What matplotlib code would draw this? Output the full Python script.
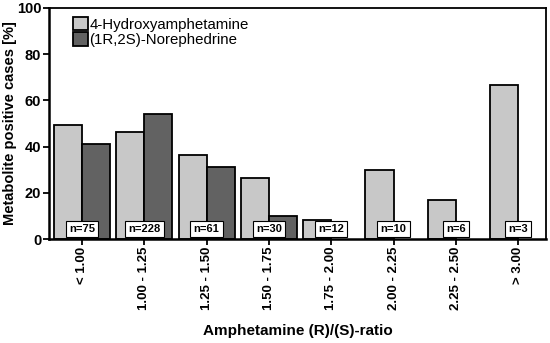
import matplotlib
matplotlib.use("Agg")
import matplotlib.pyplot as plt
import numpy as np

categories = ["< 1.00", "1.00 - 1.25", "1.25 - 1.50", "1.50 - 1.75",
              "1.75 - 2.00", "2.00 - 2.25", "2.25 - 2.50", "> 3.00"]
hydroxy = [49.2, 46.2, 36.2, 26.5, 8.2, 30.0, 16.7, 66.7]
norephedrine = [41.3, 54.0, 31.2, 10.0, 0, 0, 0, 0]
n_labels = ["n=75", "n=228", "n=61", "n=30", "n=12", "n=10", "n=6", "n=3"]

plt.rcParams['font.family'] = ['Liberation Sans', 'DejaVu Sans']

fig = plt.figure(figsize=(5.5, 3.43), dpi=100)
ax = fig.add_axes([0.089, 0.303, 0.904, 0.674])

x = np.arange(len(categories))
w = 0.45
ax.bar(x - w / 2, hydroxy, w, color="#c8c8c8", edgecolor="black", linewidth=1.3,
       label="4-Hydroxyamphetamine", zorder=2)
nx = [xi for xi, v in zip(x, norephedrine) if v > 0]
nv = [v for v in norephedrine if v > 0]
ax.bar(np.array(nx) + w / 2, nv, w, color="#626262", edgecolor="black", linewidth=1.3,
       label="(1R,2S)-Norephedrine", zorder=2)

for xi, lab in zip(x, n_labels):
    ax.text(xi, 4.3, lab, ha="center", va="center", fontsize=8, fontweight="bold",
            bbox=dict(boxstyle="square,pad=0.3", facecolor="white", edgecolor="black",
                      linewidth=0.8), zorder=3)

ax.set_xlim(-0.53, 7.45)
ax.set_ylim(0, 100)
ax.set_yticks([0, 20, 40, 60, 80, 100])
ax.set_xticks(x)
ax.set_xticklabels(categories, rotation=90, fontsize=9.5, fontweight="bold")
for t in ax.get_yticklabels():
    t.set_fontweight("bold")
    t.set_fontsize(10.5)
ax.tick_params(axis="both", direction="out", length=4, width=1.3, pad=1.5)
for s in ax.spines.values():
    s.set_linewidth(1.3)
ax.spines["left"].set_linewidth(1.8)
ax.spines["bottom"].set_linewidth(1.8)

ax.set_ylabel("Metabolite positive cases [%]", fontsize=10.5, fontweight="bold")
ax.yaxis.set_label_coords(-0.064, 0.5)
ax.set_xlabel("Amphetamine (R)/(S)-ratio", fontsize=11, fontweight="bold", labelpad=10)

ax.legend(loc="upper left", bbox_to_anchor=(0.03, 1.0), frameon=False, fontsize=10.8,
          handlelength=1.0, handleheight=1.0, handletextpad=0.1, labelspacing=0.05,
          borderaxespad=0.2)

fig.savefig("out.png", dpi=100)
